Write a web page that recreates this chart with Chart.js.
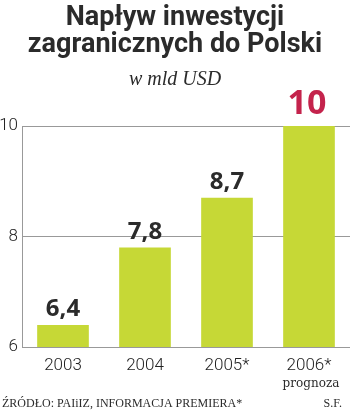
<!DOCTYPE html>
<html>
<head>
<meta charset="utf-8">
<script src="https://cdn.jsdelivr.net/npm/chart.js@4"></script>
<style>
  html, body { margin: 0; padding: 0; background: #fff; }
  #wrap { width: 350px; height: 411px; }
</style>
</head>
<body>
<div id="wrap"><canvas id="chart"></canvas></div>
<script>
const years = ['2003', '2004', '2005*', '2006*'];
const values = [6.4, 7.8, 8.7, 10];
const yTicks = [6, 8, 10];
const title = ['Napływ inwestycji', 'zagranicznych do Polski'];
const subtitle = 'w mld USD';
const forecastNote = 'prognoza';
const source = 'ŹRÓDŁO: PAIiIZ, INFORMACJA PREMIERA*';
const author = 'S.F.';

const dark = '#2b2b2b';
const lime = '#c6d836';
const red = '#c4234c';
const tickFont = { family: 'Roboto', size: 17, weight: 300 };

const labelsPlugin = {
  id: 'labels',
  afterDatasetsDraw(chart) {
    const ctx = chart.ctx;
    const meta = chart.getDatasetMeta(0);
    ctx.save();
    ctx.textAlign = 'center';
    ctx.textBaseline = 'alphabetic';
    meta.data.forEach((bar, i) => {
      const last = i === values.length - 1;
      ctx.font = last ? 'bold 34px "Open Sans"' : 'bold 24px "Open Sans"';
      ctx.fillStyle = last ? red : dark;
      ctx.fillText(String(values[i]).replace('.', ','), bar.x - (last ? 2 : 0), bar.y - (last ? 12 : 9));
    });
    // note under the last category
    const x = chart.scales.x.getPixelForValue(values.length - 1);
    ctx.font = '12px "DejaVu Serif"';
    ctx.fillStyle = dark;
    ctx.fillText(forecastNote, x + 2, 387);
    // footer
    ctx.font = '12px "Liberation Serif"';
    ctx.textAlign = 'left';
    ctx.fillText(source, 2, 407);
    ctx.textAlign = 'right';
    ctx.fillText(author, 342, 407);
    ctx.restore();
  }
};

new Chart(document.getElementById('chart'), {
  type: 'bar',
  data: {
    labels: years,
    datasets: [{
      data: values,
      backgroundColor: lime,
      borderWidth: 0,
      barPercentage: 0.63,
      categoryPercentage: 1.0
    }]
  },
  options: {
    responsive: true,
    maintainAspectRatio: false,
    animation: false,
    layout: { padding: 0 },
    plugins: {
      legend: { display: false },
      tooltip: { enabled: false },
      title: {
        display: true,
        text: title,
        color: dark,
        font: { family: 'Roboto', size: 27, weight: 'bold', lineHeight: 1.0 },
        padding: { top: 5, bottom: 0 }
      },
      subtitle: {
        display: true,
        text: subtitle,
        color: dark,
        font: { family: '"Liberation Serif"', size: 20, style: 'italic', lineHeight: 1.2 },
        padding: { top: 9, bottom: 34 }
      }
    },
    scales: {
      x: {
        grid: { display: false, drawTicks: false },
        border: { display: true, color: '#999', width: 1 },
        ticks: { color: '#222', padding: 9, font: tickFont },
        afterFit(scale) { scale.height = 64; }
      },
      y: {
        min: 6,
        max: 10,
        afterBuildTicks(scale) { scale.ticks = yTicks.map(v => ({ value: v })); },
        grid: { color: '#999', drawTicks: false, lineWidth: 1 },
        border: { display: true, color: '#999', width: 1 },
        ticks: { color: '#222', padding: 4, font: tickFont },
        afterFit(scale) { scale.width = 22; }
      }
    }
  },
  plugins: [labelsPlugin]
});
</script>
</body>
</html>
